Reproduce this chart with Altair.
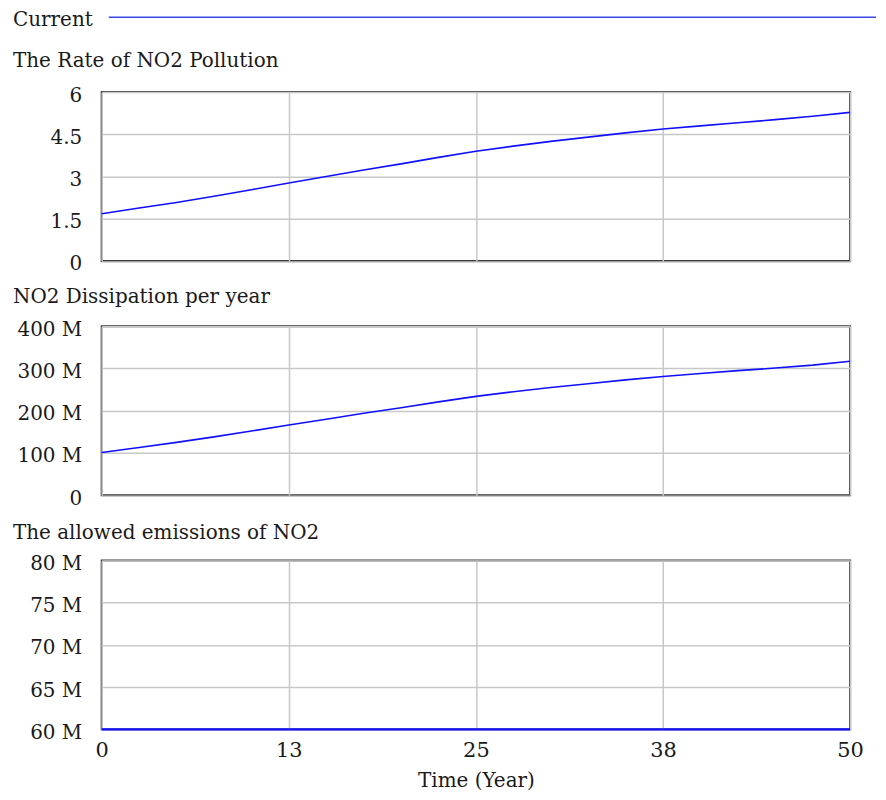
import altair as alt
import pandas as pd

# ---- data ----
years = [0, 2.5, 5, 7.5, 10, 12.5, 15, 17.5, 20, 22.5, 25,
         27.5, 30, 32.5, 35, 37.5, 40, 42.5, 45, 47.5, 50]
rate_no2 = [1.68, 1.88, 2.08, 2.30, 2.53, 2.77, 3.00, 3.23, 3.45, 3.68, 3.90,
            4.08, 4.25, 4.40, 4.55, 4.69, 4.80, 4.91, 5.02, 5.14, 5.28]
dissipation_m = [101, 113, 125, 138, 152, 166, 180, 194, 207, 221, 234,
                 245, 255, 264, 273, 281, 288, 295, 301, 308, 317]
allowed_years = [0, 50]
allowed_m = [60, 60]

x_ticks = [0, 12.5, 25, 37.5, 50]
rate_ticks = [0, 1.5, 3, 4.5, 6]
diss_ticks = [0, 100, 200, 300, 400]
allowed_ticks = [60, 65, 70, 75, 80]

titles = ["The Rate of NO2 Pollution", "NO2 Dissipation per year",
          "The allowed emissions of NO2"]
legend_label = "Current"
x_title = "Time (Year)"

FONT = "DejaVu Serif"
BLUE = "#1010ff"
LEGEND_BLUE = "#3a48e8"
GRID = "#c8c8c8"
TXT = "#1a1a1a"
W, H = 751, 169.5


def x_axis(show):
    if show:
        return alt.Axis(values=x_ticks, labelExpr="format(round(datum.value), 'd')",
                        title=x_title, titleFont=FONT, titleFontSize=20,
                        titleFontWeight="normal", titleColor=TXT, titlePadding=10,
                        labelFont=FONT, labelFontSize=21, labelColor=TXT,
                        labelPadding=10, labelFlush=False, labelOverlap=False,
                        ticks=False, tickSize=0, domain=False,
                        grid=True, gridColor=GRID, gridWidth=1.5)
    return alt.Axis(values=x_ticks, labels=False, title=None, ticks=False,
                    tickSize=0, domain=False, grid=True, gridColor=GRID,
                    gridWidth=1.5)


def panel(df, ycol, domain, ticks, label_expr, title, title_y, show_x,
          stroke_w=1.6, legend=False):
    line = alt.Chart(df).mark_line(color=BLUE, strokeWidth=stroke_w, clip=False).encode(
        x=alt.X("t:Q", scale=alt.Scale(domain=[0, 50], nice=False, zero=False),
                axis=x_axis(show_x)),
        y=alt.Y(f"{ycol}:Q",
                scale=alt.Scale(domain=domain, nice=False, zero=False),
                axis=alt.Axis(values=ticks, labelExpr=label_expr, title=None,
                              labelFont=FONT, labelFontSize=20, labelColor=TXT,
                              labelPadding=20, labelOffset=3, labelOverlap=False,
                              ticks=False, tickSize=0, domain=False,
                              grid=True, gridColor=GRID, gridWidth=1.5)),
    )
    ttl = alt.Chart(pd.DataFrame({"label": [title]})).mark_text(
        font=FONT, fontSize=20, color=TXT, align="left", baseline="alphabetic"
    ).encode(text="label:N", x=alt.value(-89), y=alt.value(title_y))
    layers = [line, ttl]
    if legend:
        leg_txt = alt.Chart(pd.DataFrame({"label": [legend_label]})).mark_text(
            font=FONT, fontSize=20, color=TXT, align="left", baseline="alphabetic"
        ).encode(text="label:N", x=alt.value(-89), y=alt.value(-66))
        leg_rule = alt.Chart(pd.DataFrame({"label": [legend_label]})).mark_rule(
            color=LEGEND_BLUE, strokeWidth=1.5
        ).encode(x=alt.value(7), x2=alt.value(777), y=alt.value(-75))
        layers += [leg_txt, leg_rule]
    return alt.layer(*layers).properties(width=W, height=H)


df1 = pd.DataFrame({"t": years, "v": rate_no2})
df2 = pd.DataFrame({"t": years, "v": dissipation_m})
df3 = pd.DataFrame({"t": allowed_years, "v": allowed_m})

p1 = panel(df1, "v", [0, 6], rate_ticks, "format(datum.value, '')",
           titles[0], -25, False, legend=True)
p2 = panel(df2, "v", [0, 400], diss_ticks,
           "datum.value == 0 ? '0' : format(datum.value, 'd') + ' M'",
           titles[1], -23, False)
p3 = panel(df3, "v", [60, 80], allowed_ticks,
           "format(datum.value, 'd') + ' M'",
           titles[2], -22, True, stroke_w=2.5)

chart = alt.vconcat(p1, p2, p3, spacing=65, bounds="flush").properties(
    padding={"left": 4, "top": 0, "right": 0, "bottom": 4}
).configure(font=FONT).configure_view(stroke="#3a3a3a", strokeWidth=2)

chart.save("out.html", embed_options={"renderer": "svg", "actions": False})
